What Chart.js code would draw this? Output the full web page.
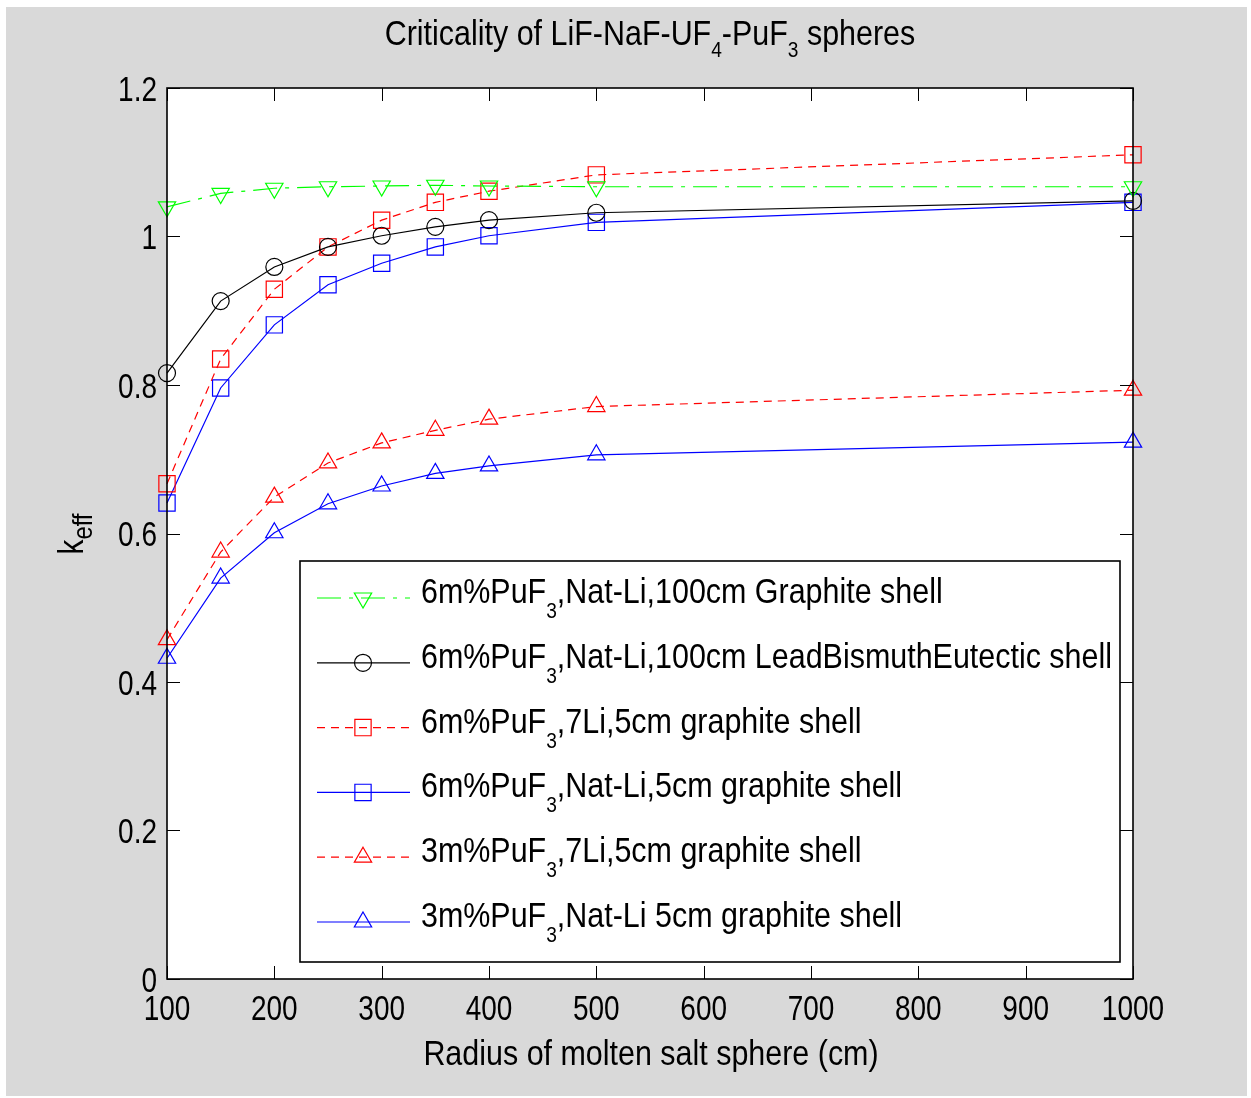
<!DOCTYPE html>
<html>
<head>
<meta charset="utf-8">
<script src="https://cdn.jsdelivr.net/npm/chart.js@4.4.1/dist/chart.umd.min.js"></script>
<style>
  html, body { margin: 0; padding: 0; background: #fff; }
  #wrap { position: relative; width: 1251px; height: 1098px; }
</style>
</head>
<body>
<div id="wrap"><canvas id="keff_chart" width="1251" height="1098"></canvas></div>
<script>
// values (radius in cm, k_eff)
const radius = [100, 150, 200, 250, 300, 350, 400, 500, 1000];
const graphite100Nat = [1.040, 1.058, 1.065, 1.067, 1.068, 1.069, 1.068, 1.067, 1.067];
const lbe100Nat      = [0.816, 0.913, 0.959, 0.986, 1.001, 1.013, 1.022, 1.032, 1.048];
const pu6Li7         = [0.667, 0.835, 0.929, 0.986, 1.022, 1.046, 1.061, 1.083, 1.110];
const pu6Nat         = [0.641, 0.796, 0.881, 0.935, 0.964, 0.986, 1.001, 1.019, 1.046];
const pu3Li7         = [0.457, 0.575, 0.649, 0.695, 0.722, 0.739, 0.754, 0.771, 0.793];
const pu3Nat         = [0.432, 0.540, 0.601, 0.640, 0.664, 0.681, 0.691, 0.706, 0.723];

const xTicks = [100, 200, 300, 400, 500, 600, 700, 800, 900, 1000];
const yTicks = [0, 0.2, 0.4, 0.6, 0.8, 1, 1.2];
const xTickLabels = ['100', '200', '300', '400', '500', '600', '700', '800', '900', '1000'];
const yTickLabels = ['0', '0.2', '0.4', '0.6', '0.8', '1', '1.2'];

// "_" marks the next character as a subscript
const titleText = 'Criticality of LiF-NaF-UF_4-PuF_3 spheres';
const xLabel = 'Radius of molten salt sphere (cm)';
const labels = [
  '6m%PuF_3,Nat-Li,100cm Graphite shell',
  '6m%PuF_3,Nat-Li,100cm LeadBismuthEutectic shell',
  '6m%PuF_3,7Li,5cm graphite shell',
  '6m%PuF_3,Nat-Li,5cm graphite shell',
  '3m%PuF_3,7Li,5cm graphite shell',
  '3m%PuF_3,Nat-Li 5cm graphite shell'
];

const FONT = "'Liberation Sans', Arial, sans-serif";

function pts(ys) { return radius.map((x, i) => ({ x: x, y: ys[i] })); }

function series(label, ys, color, dash, style, rot, r) {
  return {
    label: label, data: pts(ys), clip: false,
    borderColor: color, borderWidth: 1.2, borderDash: dash,
    pointStyle: style, pointRotation: rot, pointRadius: r, pointHoverRadius: r,
    pointBorderColor: color, pointBackgroundColor: 'rgba(0,0,0,0)', pointBorderWidth: 1.2,
    tension: 0, fill: false
  };
}

// condensed text (the original uses a narrow Helvetica)
function narrow(ctx, str, x, y, size, sx, align) {
  ctx.font = size + 'px ' + FONT;
  const w = ctx.measureText(str).width * sx;
  let x0 = x;
  if (align === 'center') x0 = x - w / 2;
  else if (align === 'right') x0 = x - w;
  ctx.save();
  ctx.translate(x0, y);
  ctx.scale(sx, 1);
  ctx.textAlign = 'left';
  ctx.fillText(str, 0, 0);
  ctx.restore();
  return w;
}

// text with "_x" subscripts, left aligned at x, baseline y
function subText(ctx, str, x, y, size, subSize, subDrop, sx, measureOnly) {
  const parts = [];
  for (let i = 0; i < str.length; i++) {
    if (str[i] === '_' && i + 1 < str.length) { parts.push({ t: str[i + 1], sub: true }); i++; }
    else if (parts.length && !parts[parts.length - 1].sub) parts[parts.length - 1].t += str[i];
    else parts.push({ t: str[i], sub: false });
  }
  let cx = x;
  parts.forEach(p => {
    const sz = p.sub ? subSize : size;
    ctx.font = sz + 'px ' + FONT;
    const w = ctx.measureText(p.t).width * sx;
    if (!measureOnly) narrow(ctx, p.t, cx, p.sub ? y + subDrop : y, sz, sx, 'left');
    cx += w;
  });
  return cx - x;
}

const decor = {
  id: 'decor',
  beforeDraw(chart) {
    const ctx = chart.ctx, a = chart.chartArea;
    ctx.save();
    ctx.fillStyle = '#fff';
    ctx.fillRect(0, 0, chart.width, chart.height);
    ctx.fillStyle = '#d9d9d9';
    ctx.fillRect(6, 7, 1241, 1089);
    ctx.fillStyle = '#fff';
    ctx.fillRect(a.left, a.top, a.right - a.left, a.bottom - a.top);
    ctx.restore();
  },
  afterDatasetsDraw(chart) {
    const ctx = chart.ctx, a = chart.chartArea;
    const xs = chart.scales.x, ys = chart.scales.y;
    ctx.save();
    // inward tick marks on all four sides
    ctx.strokeStyle = '#000';
    ctx.lineWidth = 1;
    const tl = 13;
    ctx.beginPath();
    xTicks.forEach(v => {
      const px = Math.round(xs.getPixelForValue(v)) + 0.5;
      ctx.moveTo(px, a.bottom); ctx.lineTo(px, a.bottom - tl);
      ctx.moveTo(px, a.top); ctx.lineTo(px, a.top + tl);
    });
    yTicks.forEach(v => {
      const py = Math.round(ys.getPixelForValue(v)) + 0.5;
      ctx.moveTo(a.left, py); ctx.lineTo(a.left + tl, py);
      ctx.moveTo(a.right, py); ctx.lineTo(a.right - tl, py);
    });
    ctx.stroke();
    // box
    ctx.lineWidth = 1.6;
    ctx.strokeRect(a.left, a.top, a.right - a.left, a.bottom - a.top);

    // tick labels
    ctx.fillStyle = '#000';
    ctx.textBaseline = 'alphabetic';
    xTicks.forEach((v, i) => {
      narrow(ctx, xTickLabels[i], xs.getPixelForValue(v), a.bottom + 41, 35, 0.8, 'center');
    });
    yTicks.forEach((v, i) => {
      narrow(ctx, yTickLabels[i], a.left - 10, ys.getPixelForValue(v) + 12.5, 35, 0.8, 'right');
    });

    // legend
    const lx = 300, ly = 561, lw = 820, lh = 401;
    ctx.fillStyle = '#fff';
    ctx.fillRect(lx, ly, lw, lh);
    ctx.lineWidth = 1.6;
    ctx.strokeStyle = '#000';
    ctx.strokeRect(lx, ly, lw, lh);
    chart.data.datasets.forEach((ds, i) => {
      const rowY = 598 + i * 64.8;
      ctx.strokeStyle = ds.borderColor;
      ctx.lineWidth = ds.borderWidth;
      ctx.setLineDash(ds.borderDash || []);
      ctx.beginPath();
      ctx.moveTo(317, rowY); ctx.lineTo(410, rowY);
      ctx.stroke();
      ctx.setLineDash([]);
      ctx.fillStyle = 'rgba(0,0,0,0)';
      Chart.helpers.drawPoint(ctx, {
        pointStyle: ds.pointStyle, rotation: ds.pointRotation,
        radius: ds.pointRadius, borderWidth: ds.pointBorderWidth
      }, 363, rowY);
      ctx.fillStyle = '#000';
      subText(ctx, ds.label, 421, rowY + 5, 35, 22, 15, 0.87);
    });
    ctx.restore();
  },
  afterDraw(chart) {
    const ctx = chart.ctx;
    ctx.save();
    ctx.fillStyle = '#000';
    ctx.textBaseline = 'alphabetic';
    // title
    const tw = subText(ctx, titleText, 0, 0, 35, 22, 12, 0.87, true);
    subText(ctx, titleText, 650 - tw / 2, 45, 35, 22, 12, 0.87);
    // x label
    narrow(ctx, xLabel, 651, 1065, 35, 0.87, 'center');
    // y label k_eff (rotated)
    ctx.translate(83, 534);
    ctx.rotate(-Math.PI / 2);
    ctx.font = '35px ' + FONT;
    const kw = ctx.measureText('k').width * 0.85;
    ctx.font = '28px ' + FONT;
    const ew = ctx.measureText('eff').width * 0.85;
    narrow(ctx, 'k', -(kw + ew) / 2, 0, 35, 0.85, 'left');
    narrow(ctx, 'eff', -(kw + ew) / 2 + kw, 9, 28, 0.85, 'left');
    ctx.restore();
  }
};

const ctx = document.getElementById('keff_chart').getContext('2d');
const chart = new Chart(ctx, {
  type: 'line',
  data: {
    datasets: [
      series(labels[0], graphite100Nat, '#00ff00', [24, 8, 4, 8], 'triangle', 180, 10),
      series(labels[1], lbe100Nat, '#000000', [], 'circle', 0, 8.5),
      series(labels[2], pu6Li7, '#ff0000', [8, 6], 'rect', 0, 11.5),
      series(labels[3], pu6Nat, '#0000ff', [], 'rect', 0, 11.5),
      series(labels[4], pu3Li7, '#ff0000', [8, 6], 'triangle', 0, 10),
      series(labels[5], pu3Nat, '#0000ff', [], 'triangle', 0, 10)
    ]
  },
  options: {
    responsive: false,
    animation: false,
    events: [],
    layout: { padding: { left: 0, right: 118, top: 88, bottom: 0 } },
    plugins: { legend: { display: false }, title: { display: false }, tooltip: { enabled: false } },
    scales: {
      x: {
        type: 'linear', min: 100, max: 1000,
        grid: { display: false }, border: { display: false },
        afterBuildTicks: s => { s.ticks = xTicks.map(v => ({ value: v })); },
        afterFit: s => { s.height = 119; },
        ticks: { display: false }
      },
      y: {
        type: 'linear', min: 0, max: 1.2,
        grid: { display: false }, border: { display: false },
        afterBuildTicks: s => { s.ticks = yTicks.map(v => ({ value: v })); },
        afterFit: s => { s.width = 167; },
        ticks: { display: false }
      }
    }
  },
  plugins: [decor]
});
</script>
</body>
</html>
